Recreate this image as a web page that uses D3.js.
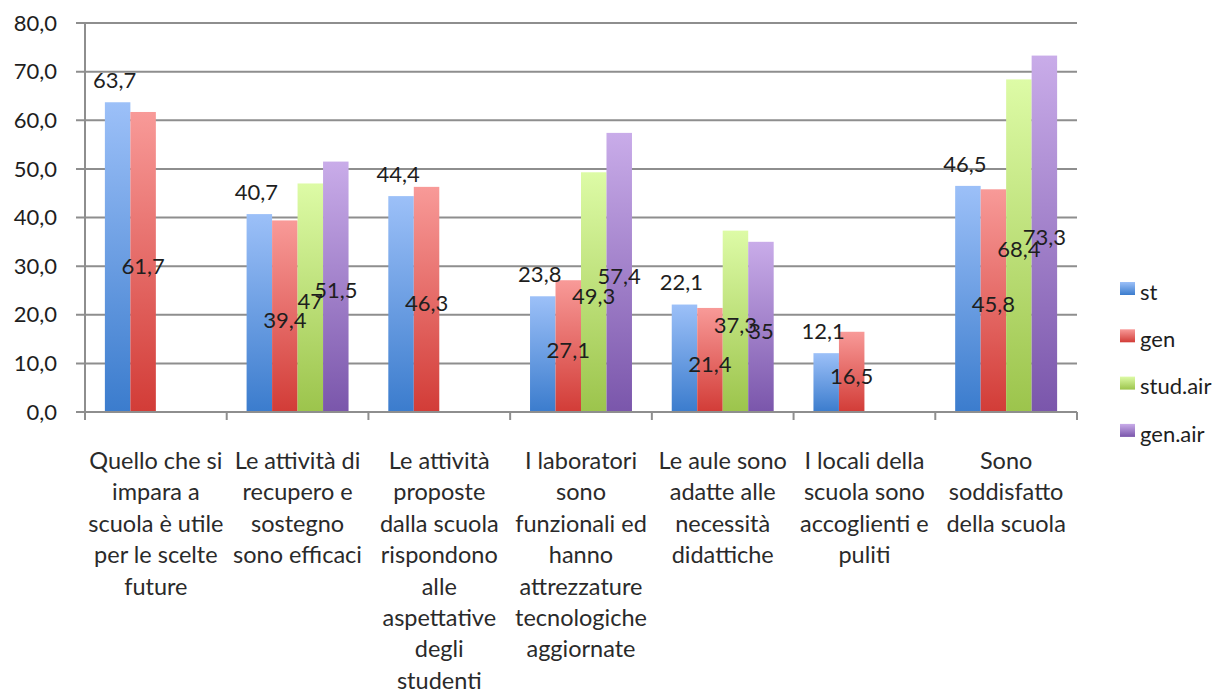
<!DOCTYPE html>
<html>
<head>
<meta charset="utf-8">
<script src="https://cdn.jsdelivr.net/npm/d3@7"></script>
<style>
  body { margin: 0; background: #fff; }
  text { font-family: Lato, "Open Sans", sans-serif; fill: #1e1e1e; }
</style>
</head>
<body>
<div id="chart"></div>
<script>
// categories (with line breaks as in the original axis)
var categories = [
  "Quello che si\nimpara a\nscuola è utile\nper le scelte\nfuture",
  "Le attività di\nrecupero e\nsostegno\nsono efficaci",
  "Le attività\nproposte\ndalla scuola\nrispondono\nalle\naspettative\ndegli\nstudenti",
  "I laboratori\nsono\nfunzionali ed\nhanno\nattrezzature\ntecnologiche\naggiornate",
  "Le aule sono\nadatte alle\nnecessità\ndidattiche",
  "I locali della\nscuola sono\naccoglienti e\npuliti",
  "Sono\nsoddisfatto\ndella scuola"
];

var seriesNames = ["st", "gen", "stud.air", "gen.air"];

var st      = [63.7, 40.7, 44.4, 23.8, 22.1, 12.1, 46.5];
var gen     = [61.7, 39.4, 46.3, 27.1, 21.4, 16.5, 45.8];
var studAir = [null, 47,   null, 49.3, 37.3, null, 68.4];
var genAir  = [null, 51.5, null, 57.4, 35,   null, 73.3];

var yTicks = [0, 10, 20, 30, 40, 50, 60, 70, 80];

var seriesValues = [st, gen, studAir, genAir];

// colours: top (light) and bottom (dark) of each bar gradient
var colTop = ["#9cc0f8", "#f89a98", "#ddfba6", "#c9ace9"];
var colBot = ["#3b7ccd", "#d23c37", "#9cc44c", "#7a56ab"];

var W = 1224, H = 689;
var plotL = 85, plotR = 1077, plotT = 23, plotB = 412;

var svg = d3.select("#chart").append("svg")
  .attr("width", W)
  .attr("height", H);

var defs = svg.append("defs");
seriesNames.forEach(function(s, i) {
  var g = defs.append("linearGradient")
    .attr("id", "grad" + i)
    .attr("x1", 0).attr("y1", 0).attr("x2", 0).attr("y2", 1);
  g.append("stop").attr("offset", "0%").attr("stop-color", colTop[i]);
  g.append("stop").attr("offset", "100%").attr("stop-color", colBot[i]);
});

var fmt = function(v) { return String(v).replace(".", ","); };

var x0 = d3.scaleBand().domain(d3.range(categories.length)).range([plotL, plotR]);
var x1 = d3.scaleBand().domain(d3.range(seriesNames.length))
  .range([0, x0.bandwidth()]).paddingOuter(0.78);
var y = d3.scaleLinear().domain([0, 80]).range([plotB, plotT]);

// gridlines
svg.append("g").selectAll("line")
  .data(yTicks)
  .enter().append("line")
  .attr("x1", plotL - 9)
  .attr("x2", plotR)
  .attr("y1", function(d) { return y(d); })
  .attr("y2", function(d) { return y(d); })
  .attr("stroke", "#8e8e8e")
  .attr("stroke-width", 2);

// y tick labels
svg.append("g").selectAll("text")
  .data(yTicks)
  .enter().append("text")
  .attr("x", 57)
  .attr("y", function(d) { return y(d); })
  .attr("dy", "0.35em")
  .attr("text-anchor", "end")
  .style("font-size", "22px")
  .text(function(d) { return d.toFixed(1).replace(".", ","); });

// y axis line
svg.append("line")
  .attr("x1", plotL).attr("x2", plotL)
  .attr("y1", plotT).attr("y2", plotB)
  .attr("stroke", "#8e8e8e").attr("stroke-width", 2);

// bars
var groups = svg.append("g").selectAll("g")
  .data(categories)
  .enter().append("g")
  .attr("transform", function(d, i) { return "translate(" + x0(i) + ",0)"; });

function points(d, i) {
  return seriesValues.map(function(vals, s) { return {s: s, v: vals[i]}; })
    .filter(function(p) { return p.v != null; });
}

groups.selectAll("rect")
  .data(points)
  .enter().append("rect")
  .attr("x", function(d) { return x1(d.s); })
  .attr("width", x1.bandwidth())
  .attr("y", function(d) { return y(d.v); })
  .attr("height", function(d) { return plotB - y(d.v); })
  .attr("fill", function(d) { return "url(#grad" + d.s + ")"; });

// x axis line and ticks
svg.append("line")
  .attr("x1", plotL - 9).attr("x2", plotR)
  .attr("y1", plotB).attr("y2", plotB)
  .attr("stroke", "#8e8e8e").attr("stroke-width", 2);

svg.append("g").selectAll("line")
  .data(d3.range(categories.length + 1))
  .enter().append("line")
  .attr("x1", function(d) { return plotL + d * x0.step(); })
  .attr("x2", function(d) { return plotL + d * x0.step(); })
  .attr("y1", plotB).attr("y2", plotB + 8)
  .attr("stroke", "#8e8e8e").attr("stroke-width", 2);

// data labels: "st" above the bar, the others in the middle of the bar
groups.selectAll("text.lbl")
  .data(points)
  .enter().append("text")
  .attr("class", "lbl")
  .attr("x", function(d) { return x1(d.s) + x1.bandwidth() / 2 + (d.s === 0 ? -3 : 0); })
  .attr("y", function(d) {
    return d.s === 0 ? y(d.v) - 22 : (y(d.v) + plotB) / 2 + 4;
  })
  .attr("dy", "0.35em")
  .attr("text-anchor", "middle")
  .style("font-size", "22px")
  .text(function(d) { return fmt(d.v); });

// category labels
groups.append("text")
  .attr("text-anchor", "middle")
  .style("font-size", "23.5px")
  .style("fill", "#2a2a2a")
  .each(function(d) {
    var t = d3.select(this);
    d.split("\n").forEach(function(line, k) {
      t.append("tspan")
        .attr("x", x0.bandwidth() / 2)
        .attr("y", 469 + k * 31.4)
        .text(line);
    });
  });

// legend
var legend = svg.append("g").selectAll("g")
  .data(seriesNames)
  .enter().append("g")
  .attr("transform", function(d, i) { return "translate(1120," + (292 + i * 47.3) + ")"; });

legend.append("rect")
  .attr("y", -10)
  .attr("width", 15).attr("height", 13)
  .attr("fill", function(d, i) { return "url(#grad" + i + ")"; });

legend.append("text")
  .attr("x", 20)
  .attr("dy", "0.35em")
  .style("font-size", "22px")
  .text(function(d) { return d; });
</script>
</body>
</html>
